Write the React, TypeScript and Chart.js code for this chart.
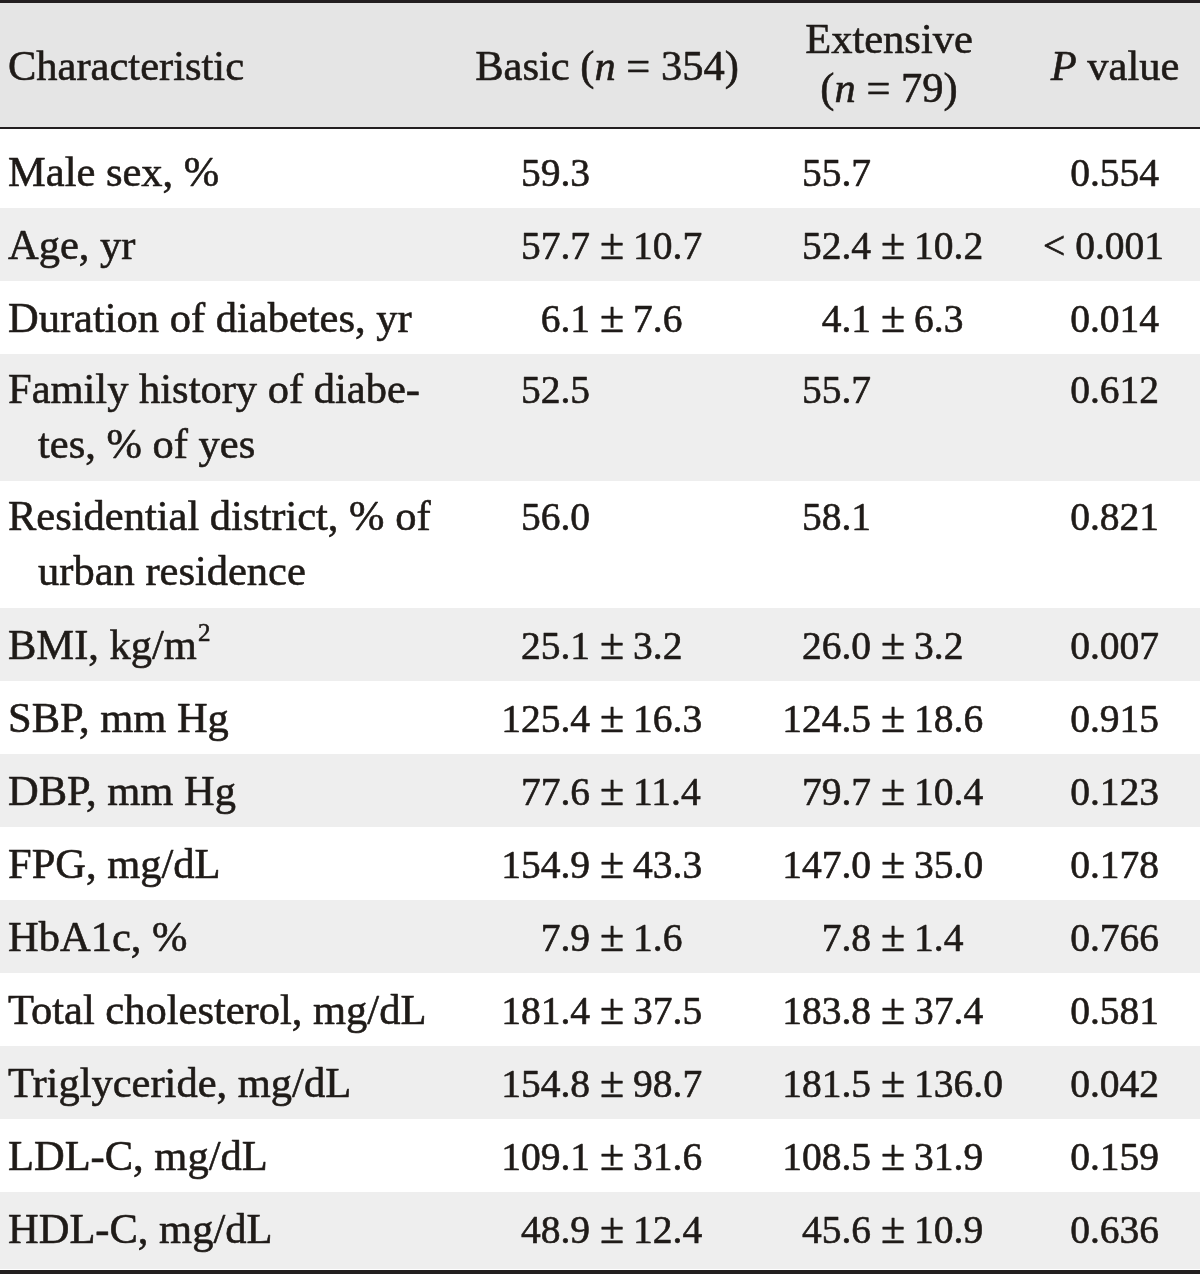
import React, { useEffect, useRef } from "react";
import { Chart, registerables } from "chart.js";

Chart.register(...registerables);

// ---- Data ----
const headerLabels: string[][] = [
  ["Characteristic"],
  ["Basic (*n* = 354)"],
  ["Extensive", "(*n* = 79)"],
  ["*P* value"],
];

const characteristics: string[][] = [
  ["Male sex, %"],
  ["Age, yr"],
  ["Duration of diabetes, yr"],
  ["Family history of diabe-", "tes, % of yes"],
  ["Residential district, % of", "urban residence"],
  ["BMI, kg/m²"],
  ["SBP, mm Hg"],
  ["DBP, mm Hg"],
  ["FPG, mg/dL"],
  ["HbA1c, %"],
  ["Total cholesterol, mg/dL"],
  ["Triglyceride, mg/dL"],
  ["LDL-C, mg/dL"],
  ["HDL-C, mg/dL"],
];

const basicMean = [59.3, 57.7, 6.1, 52.5, 56.0, 25.1, 125.4, 77.6, 154.9, 7.9, 181.4, 154.8, 109.1, 48.9];
const basicSD: (number | null)[] = [null, 10.7, 7.6, null, null, 3.2, 16.3, 11.4, 43.3, 1.6, 37.5, 98.7, 31.6, 12.4];
const extensiveMean = [55.7, 52.4, 4.1, 55.7, 58.1, 26.0, 124.5, 79.7, 147.0, 7.8, 183.8, 181.5, 108.5, 45.6];
const extensiveSD: (number | null)[] = [null, 10.2, 6.3, null, null, 3.2, 18.6, 10.4, 35.0, 1.4, 37.4, 136.0, 31.9, 10.9];
const pValues = ["0.554", "< 0.001", "0.014", "0.612", "0.821", "0.007", "0.915", "0.123", "0.178", "0.766", "0.581", "0.042", "0.159", "0.636"];

// ---- Layout / style ----
const W = 1200;
const H = 1274;
const LABEL_SIZE = 42.5;
const NUM_SIZE = 39.5;
const PM_SIZE = 44;
const FAMILY = '"Liberation Serif", "Times New Roman", serif';
const TEXT = "#1f1b18";
const HEADER_BG = "#e5e5e5";
const STRIPE_BG = "#eeeeee";
const RULE = "#231f20";

const LABEL_X = 8;
const INDENT_X = 38;
const BASIC_PM = 612;
const EXT_PM = 893;
const P_RIGHT = 1159;
const HEADER_CENTERS = [0, 607, 889, 1115];

const HEADER_TOP = 3;
const HEADER_BOTTOM = 127;
const BODY_TOP = 135;
const SINGLE_H = 73;
const DOUBLE_H = 127;

function font(italic: boolean, size = LABEL_SIZE) {
  return `${italic ? "italic " : ""}${size}px ${FAMILY}`;
}

function txt(ctx: CanvasRenderingContext2D, s: string, x: number, y: number) {
  ctx.fillText(s, x, y);
  ctx.strokeText(s, x, y);
}

function parseRich(s: string) {
  const parts = s.split("*");
  return parts.map((t, i) => ({ text: t, italic: i % 2 === 1 })).filter((p) => p.text.length > 0);
}

function drawRich(ctx: CanvasRenderingContext2D, s: string, x: number, y: number, align: "left" | "center" | "right") {
  const segs = parseRich(s);
  let total = 0;
  const widths = segs.map((sg) => {
    ctx.font = font(sg.italic);
    const w = ctx.measureText(sg.text).width;
    total += w;
    return w;
  });
  let cx = align === "left" ? x : align === "center" ? x - total / 2 : x - total;
  ctx.textAlign = "left";
  segs.forEach((sg, i) => {
    ctx.font = font(sg.italic);
    txt(ctx, sg.text, cx, y);
    cx += widths[i];
  });
}

function drawLabel(ctx: CanvasRenderingContext2D, s: string, x: number, y: number) {
  ctx.textAlign = "left";
  ctx.font = font(false);
  const idx = s.indexOf("²");
  if (idx < 0) {
    txt(ctx, s, x, y);
    return;
  }
  const before = s.slice(0, idx);
  txt(ctx, before, x, y);
  const w = ctx.measureText(before).width;
  ctx.font = font(false, 25);
  txt(ctx, "2", x + w + 1, y - 18);
  ctx.font = font(false);
}

function drawPM(
  ctx: CanvasRenderingContext2D,
  mean: number,
  sd: number | null,
  pmX: number,
  y: number
) {
  ctx.font = font(false, NUM_SIZE);
  ctx.textAlign = "right";
  txt(ctx, mean.toFixed(1), pmX - 22, y);
  if (sd !== null) {
    ctx.font = font(false, PM_SIZE);
    ctx.textAlign = "center";
    txt(ctx, "±", pmX, y);
    ctx.font = font(false, NUM_SIZE);
    ctx.textAlign = "left";
    txt(ctx, sd.toFixed(1), pmX + 21, y);
  }
}

const tablePlugin = {
  id: "tablePlugin",
  beforeDraw(chart: any) {
    const ctx: CanvasRenderingContext2D = chart.ctx;
    const xs = chart.scales.x;
    const ys = chart.scales.y;
    const px = (v: number) => xs.getPixelForValue(v);
    const py = (v: number) => ys.getPixelForValue(v);
    ctx.save();
    ctx.fillStyle = "#ffffff";
    ctx.fillRect(px(0), py(0), px(W) - px(0), py(H) - py(0));
    ctx.fillStyle = HEADER_BG;
    ctx.fillRect(px(0), py(HEADER_TOP), px(W) - px(0), py(HEADER_BOTTOM) - py(HEADER_TOP));
    let top = BODY_TOP;
    characteristics.forEach((lines, i) => {
      const h = lines.length > 1 ? DOUBLE_H : SINGLE_H;
      if (i % 2 === 1) {
        const bottom = i === characteristics.length - 1 ? H - 5 : top + h;
        ctx.fillStyle = STRIPE_BG;
        ctx.fillRect(px(0), py(top), px(W) - px(0), py(bottom) - py(top));
      }
      top += h;
    });
    ctx.fillStyle = RULE;
    ctx.fillRect(px(0), py(0), px(W) - px(0), py(3) - py(0));
    ctx.fillRect(px(0), py(HEADER_BOTTOM), px(W) - px(0), py(HEADER_BOTTOM + 2) - py(HEADER_BOTTOM));
    ctx.fillRect(px(0), py(H - 4), px(W) - px(0), py(H) - py(H - 4));
    ctx.restore();
  },
  afterDraw(chart: any) {
    const ctx: CanvasRenderingContext2D = chart.ctx;
    const xs = chart.scales.x;
    const ys = chart.scales.y;
    const px = (v: number) => xs.getPixelForValue(v);
    const py = (v: number) => ys.getPixelForValue(v);
    ctx.save();
    ctx.fillStyle = TEXT;
    ctx.strokeStyle = TEXT;
    ctx.lineWidth = 0.6;
    ctx.lineJoin = "round";
    ctx.textBaseline = "alphabetic";

    drawRich(ctx, headerLabels[0][0], px(LABEL_X), py(80), "left");
    drawRich(ctx, headerLabels[1][0], px(HEADER_CENTERS[1]), py(80), "center");
    drawRich(ctx, headerLabels[2][0], px(HEADER_CENTERS[2]), py(53), "center");
    drawRich(ctx, headerLabels[2][1], px(HEADER_CENTERS[2]), py(102), "center");
    drawRich(ctx, headerLabels[3][0], px(HEADER_CENTERS[3]), py(80), "center");

    let top = BODY_TOP;
    characteristics.forEach((lines, i) => {
      const dbl = lines.length > 1;
      const base = top + (dbl ? 49 : 51);
      drawLabel(ctx, lines[0], px(LABEL_X), py(base));
      if (dbl) drawLabel(ctx, lines[1], px(INDENT_X), py(base + 55));
      drawPM(ctx, basicMean[i], basicSD[i], px(BASIC_PM), py(base));
      drawPM(ctx, extensiveMean[i], extensiveSD[i], px(EXT_PM), py(base));
      ctx.font = font(false, NUM_SIZE);
      ctx.textAlign = "right";
      txt(ctx, pValues[i], px(P_RIGHT + (pValues[i].startsWith("<") ? 5 : 0)), py(base));
      top += dbl ? DOUBLE_H : SINGLE_H;
    });
    ctx.restore();
  },
};

export default function App() {
  const ref = useRef<HTMLCanvasElement | null>(null);
  useEffect(() => {
    if (!ref.current) return;
    const chart = new Chart(ref.current, {
      type: "scatter",
      data: {
        datasets: [
          {
            data: characteristics.map((_, i) => ({ x: basicMean[i], y: i })),
            pointRadius: 0,
            showLine: false,
          },
        ],
      },
      options: {
        responsive: false,
        animation: false,
        devicePixelRatio: 1,
        layout: { padding: 0 },
        plugins: { legend: { display: false }, tooltip: { enabled: false } },
        scales: {
          x: { type: "linear", min: 0, max: W, display: false },
          y: { type: "linear", min: 0, max: H, reverse: true, display: false },
        },
      },
      plugins: [tablePlugin],
    });
    return () => chart.destroy();
  }, []);
  return (
    <div style={{ position: "absolute", left: 0, top: 0, width: W, height: H, background: "#fff" }}>
      <canvas ref={ref} width={W} height={H} style={{ display: "block", width: W, height: H }} />
    </div>
  );
}
